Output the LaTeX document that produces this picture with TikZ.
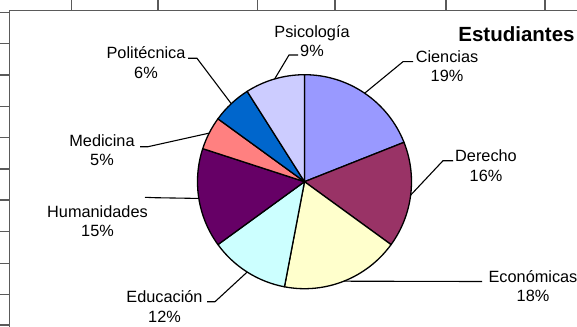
\documentclass[tikz,border=0pt]{standalone}
\usepackage{fontspec}
\setmainfont{Liberation Sans}
\definecolor{cCien}{HTML}{9999FF}
\definecolor{cDer}{HTML}{993366}
\definecolor{cEco}{HTML}{FFFFCC}
\definecolor{cEdu}{HTML}{CCFFFF}
\definecolor{cHum}{HTML}{660066}
\definecolor{cMed}{HTML}{FF8080}
\definecolor{cPol}{HTML}{0066CC}
\definecolor{cPsi}{HTML}{CCCCFF}
\definecolor{gridgray}{HTML}{5A5A5A}
\begin{document}
\begin{tikzpicture}[x=1pt,y=-1pt,
  gridline/.style={draw=gridgray, line width=1.3pt},
  pieline/.style={draw=black, line width=1.3pt, line join=round},
  leader/.style={draw=black, line width=1.1pt},
  lbl/.style={align=center, inner sep=0pt, font=\fontsize{16.3}{19.5}\selectfont},
  ttl/.style={inner sep=0pt, font=\fontsize{20.5}{24}\selectfont\bfseries}]
\useasboundingbox (0,0) rectangle (577,326);
\fill[white] (0,0) rectangle (577,326);
% sheet grid remnants and chart frame
\foreach \x in {71.7,158,257.7,335,446,545} \draw[gridline] (\x,0) -- (\x,10.7);
\foreach \y in {12.7,43.3,75,106.7,137.7,169,200,231.7,263.3,294.5,325} \draw[gridline] (0,\y) -- (9.3,\y);
\draw[gridline] (9.3,327) -- (9.3,10.7) -- (578,10.7);
% pie
\begin{scope}[shift={(304.5,181.7)}]
  \filldraw[fill=cCien, pieline] (0,0) -- (90:107pt) arc[start angle=90, end angle=21.6, radius=107pt] -- cycle;
  \filldraw[fill=cDer, pieline] (0,0) -- (21.6:107pt) arc[start angle=21.6, end angle=-36, radius=107pt] -- cycle;
  \filldraw[fill=cEco, pieline] (0,0) -- (-36:107pt) arc[start angle=-36, end angle=-100.8, radius=107pt] -- cycle;
  \filldraw[fill=cEdu, pieline] (0,0) -- (-100.8:107pt) arc[start angle=-100.8, end angle=-144, radius=107pt] -- cycle;
  \filldraw[fill=cHum, pieline] (0,0) -- (-144:107pt) arc[start angle=-144, end angle=-198, radius=107pt] -- cycle;
  \filldraw[fill=cMed, pieline] (0,0) -- (-198:107pt) arc[start angle=-198, end angle=-216, radius=107pt] -- cycle;
  \filldraw[fill=cPol, pieline] (0,0) -- (-216:107pt) arc[start angle=-216, end angle=-237.6, radius=107pt] -- cycle;
  \filldraw[fill=cPsi, pieline] (0,0) -- (-237.6:107pt) arc[start angle=-237.6, end angle=-270, radius=107pt] -- cycle;
  \coordinate (eCien) at (55.8:107pt);
  \coordinate (eDer) at (-7.2:107pt);
  \coordinate (eEco) at (-68.4:107pt);
  \coordinate (eEdu) at (-122.4:107pt);
  \coordinate (eHum) at (-171:107pt);
  \coordinate (eMed) at (-207:107pt);
  \coordinate (ePol) at (-226.8:107pt);
  \coordinate (ePsi) at (-253.8:107pt);
\end{scope}
% title
\node[ttl] (title) at (516.5,34) {Estudiantes};
% labels
\node[lbl] (psi) at (312,41) {Psicología\\9\%};
\node[lbl] (cien) at (447,66) {Ciencias\\19\%};
\node[lbl] (der) at (486,165.5) {Derecho\\16\%};
\node[lbl] (eco) at (533,286) {Económicas\\18\%};
\node[lbl] (edu) at (164.5,306.7) {Educación\\12\%};
\node[lbl] (hum) at (97.5,221) {Humanidades\\15\%};
\node[lbl] (med) at (102,150) {Medicina\\5\%};
\node[lbl] (pol) at (146,62.5) {Politécnica\\6\%};
% leader lines
\coordinate (psiA) at (298,55);   \coordinate (psiB) at (289,55);
\coordinate (cienA) at (413,61.7); \coordinate (cienB) at (403,61.7);
\coordinate (derA) at (453,160.7); \coordinate (derB) at (443,160.7);
\coordinate (ecoA) at (482,281.5);
\coordinate (eduA) at (207,301.7); \coordinate (eduB) at (215,301.7);
\coordinate (humA) at (145,197.3); \coordinate (humB) at (155,197.7);
\coordinate (medA) at (140,146.7); \coordinate (medB) at (148,146.7);
\coordinate (polA) at (188,58.3);  \coordinate (polB) at (197,58.3);
\draw[leader] (psiA) -- (psiB) -- (ePsi);
\draw[leader] (cienA) -- (cienB) -- (eCien);
\draw[leader] (derA) -- (derB) -- (eDer);
\draw[leader] (ecoA) -- (eEco);
\draw[leader] (eduA) -- (eduB) -- (eEdu);
\draw[leader] (humA) -- (humB) -- (eHum);
\draw[leader] (medA) -- (medB) -- (eMed);
\draw[leader] (polA) -- (polB) -- (ePol);
\end{tikzpicture}
\end{document}
